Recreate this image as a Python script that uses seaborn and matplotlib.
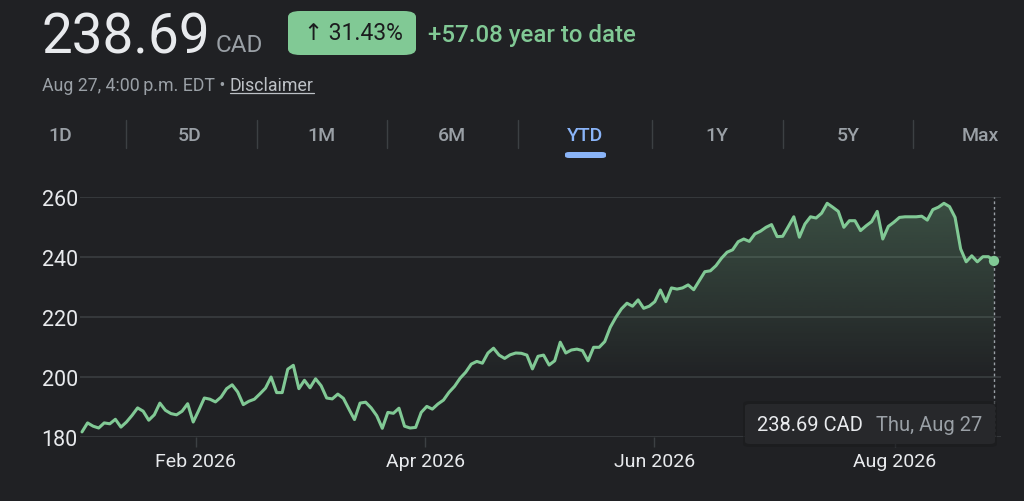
import numpy as np
import pandas as pd
import matplotlib
matplotlib.use("Agg")
import matplotlib.pyplot as plt
import seaborn as sns
from matplotlib.patches import FancyBboxPatch

# YTD daily closes, Jan 2 .. Aug 27 2026
price = [
    181.7, 184.7, 183.6, 183.0, 184.7, 184.4, 185.9, 183.3, 185.0, 187.2,
    189.7, 188.6, 185.6, 187.4, 191.3, 188.9, 187.8, 187.4, 188.6, 191.1,
    185.0, 188.9, 193.0, 192.6, 191.7, 193.3, 196.1, 197.4, 195.0, 190.8,
    191.9, 192.6, 194.4, 196.3, 200.0, 194.8, 194.8, 202.6, 203.9, 196.1,
    198.9, 196.4, 199.4, 197.1, 193.0, 192.7, 194.3, 192.9, 189.3, 185.8,
    191.3, 191.6, 189.7, 187.1, 182.9, 188.2, 187.9, 189.6, 183.6, 183.0,
    183.2, 188.2, 190.2, 189.3, 191.0, 192.3, 194.9, 196.9, 199.6, 201.6,
    204.3, 205.2, 204.6, 208.0, 209.6, 207.3, 206.2, 207.4, 208.0, 207.9,
    207.3, 202.7, 206.9, 207.3, 204.0, 205.4, 211.6, 208.0, 209.0, 209.3,
    208.8, 205.4, 209.9, 209.9, 211.8, 216.6, 219.9, 222.7, 224.6, 223.6,
    225.7, 222.9, 223.6, 225.1, 229.0, 225.1, 229.7, 229.3, 229.7, 230.7,
    229.1, 232.1, 235.1, 235.4, 237.1, 239.6, 241.6, 242.4, 245.1, 246.0,
    245.2, 247.7, 248.6, 249.9, 250.8, 246.8, 246.9, 250.1, 253.4, 246.6,
    251.0, 253.4, 253.0, 254.6, 257.9, 256.6, 255.2, 249.9, 252.1, 252.1,
    248.8, 250.4, 251.8, 255.2, 246.0, 250.2, 251.6, 253.2, 253.4, 253.4,
    253.4, 253.6, 252.3, 255.8, 256.6, 257.9, 256.8, 253.2, 242.7, 238.4,
    240.4, 238.4, 240.1, 240.1, 238.69,
]
month_labels = ["Feb 2026", "Apr 2026", "Jun 2026", "Aug 2026"]
month_pos = [20.5, 61.7, 102.9, 146.2]
y_ticks = [180, 200, 220, 240, 260]
tabs = ["1D", "5D", "1M", "6M", "YTD", "1Y", "5Y", "Max"]

last_price = "238.69"
pct_change = "31.43%"
abs_change = "+57.08 year to date"

df = pd.DataFrame({"day": np.arange(len(price)), "close": price})

BG = "#202124"
GREEN = "#81c995"
GRID = "#3c4043"
TXT = "#e8eaed"
GREY = "#9aa0a6"
BLUE = "#8ab4f8"

sns.set_theme(style="dark")
plt.rcParams["font.family"] = ["Roboto", "DejaVu Sans"]

W, H = 1024, 502
fig = plt.figure(figsize=(W / 100, H / 100), dpi=100, facecolor=BG)


def fx(px):
    return px / W


def fy(py):
    return 1 - py / H


# ---- header ----
fig.text(fx(41), fy(53), last_price, fontsize=39.5, color=TXT, va="baseline")
fig.text(fx(216), fy(52), "CAD", fontsize=17.5, color=GREY, va="baseline")
badge = FancyBboxPatch((fx(288), fy(56)), fx(128), 44 / H,
                       boxstyle="round,pad=0,rounding_size=0.012",
                       transform=fig.transFigure, facecolor=GREEN, edgecolor="none")
fig.add_artist(badge)
fig.text(fx(353), fy(34), "\u2191 " + pct_change, fontsize=16.5, color="#1b1c1e",
         ha="center", va="center")
fig.text(fx(428), fy(42), abs_change, fontsize=17.3, color=GREEN,
         va="baseline", fontweight="medium")

sub = fig.text(fx(42), fy(91), "Aug 27, 4:00\u202fp.m. EDT \u2022 ", fontsize=12.8,
               color=GREY, va="baseline")
renderer = fig.canvas.get_renderer()
bb = sub.get_window_extent(renderer=renderer)
disc = fig.text(bb.x1 / W, fy(91), "Disclaimer", fontsize=12.8, color="#bdc1c6",
                va="baseline")
db = disc.get_window_extent(renderer=renderer)
fig.add_artist(plt.Line2D([db.x0 / W, db.x1 / W], [fy(94), fy(94)], color="#bdc1c6",
                          lw=0.9, transform=fig.transFigure))

# ---- range tabs ----
tab_x = [60, 190, 321, 452, 585, 717, 848, 980]
for lab, x in zip(tabs, tab_x):
    fig.text(fx(x), fy(136), lab, fontsize=14, ha="center", va="center",
             color=BLUE if lab == "YTD" else GREY, fontweight="medium")
for x in [126, 257, 387, 518, 652, 783, 913]:
    fig.add_artist(plt.Line2D([fx(x), fx(x)], [fy(121), fy(149)], color=GRID,
                              lw=1, transform=fig.transFigure))
under = FancyBboxPatch((fx(565), fy(159)), fx(41), 6 / H,
                       boxstyle="round,pad=0,rounding_size=0.004",
                       transform=fig.transFigure, facecolor=BLUE, edgecolor="none")
fig.add_artist(under)

# ---- chart ----
ax = fig.add_axes([fx(80), fy(438), fx(921), 240 / H])
ax.set_facecolor(BG)
x0 = -2 / 5.561
x1 = len(price) - 1 + 7 / 5.561
ax.set_xlim(x0, x1)
ax.set_ylim(180, 260)

# gradient fill under the line
poly = ax.fill_between(df["day"], df["close"], 180, color="none", lw=0)
yy = np.linspace(180, 260, 256)
alpha = np.clip((yy - 198) / 62, 0, 1) * 0.28
grad = np.zeros((256, 1, 4))
grad[:, 0, 0] = 129 / 255
grad[:, 0, 1] = 201 / 255
grad[:, 0, 2] = 149 / 255
grad[:, 0, 3] = alpha
im = ax.imshow(grad, extent=[x0, x1, 180, 260], origin="lower", aspect="auto",
               zorder=1)
path = poly.get_paths()[0]
im.set_clip_path(path, transform=ax.transData)

for v in y_ticks:
    ax.axhline(v, color=GRID, lw=1.1, zorder=0.5)

last = len(price) - 1
ax.axvline(last, color=GREY, lw=1, ls=(0, (2, 2)), zorder=2)
sns.lineplot(data=df, x="day", y="close", ax=ax, color=GREEN, lw=2.2, zorder=3)
ax.scatter([last], [price[-1]], s=55, color=GREEN, zorder=4, edgecolor="none")

ax.set_yticks(y_ticks)
ax.set_yticklabels([str(v) for v in y_ticks])
ax.set_xticks(month_pos)
ax.set_xticklabels(month_labels)
ax.tick_params(axis="y", length=0, pad=1.5, labelsize=15.5, labelcolor=TXT)
ax.tick_params(axis="x", length=7, width=1, color=GRID, pad=4, labelsize=14,
               labelcolor=TXT, bottom=True)
ax.grid(False)
ax.set_xlabel("")
ax.set_ylabel("")
for s in ax.spines.values():
    s.set_visible(False)

# ---- tooltip ----
shadow = FancyBboxPatch((fx(743), fy(448)), fx(254), 46 / H,
                        boxstyle="round,pad=0,rounding_size=0.006",
                        transform=fig.transFigure, facecolor="#1a1b1d",
                        edgecolor="none", alpha=0.6, zorder=5)
fig.add_artist(shadow)
tip = FancyBboxPatch((fx(745), fy(445)), fx(250), 40 / H,
                     boxstyle="round,pad=0,rounding_size=0.005",
                     transform=fig.transFigure, facecolor="#27282b",
                     edgecolor="none", zorder=6)
fig.add_artist(tip)
fig.text(fx(757), fy(431), last_price + " CAD", fontsize=14.5, color=TXT,
         va="baseline", zorder=7)
fig.text(fx(876), fy(431), "Thu, Aug 27", fontsize=14.5, color=GREY,
         va="baseline", zorder=7)

fig.savefig("out.png", dpi=100, facecolor=BG)
